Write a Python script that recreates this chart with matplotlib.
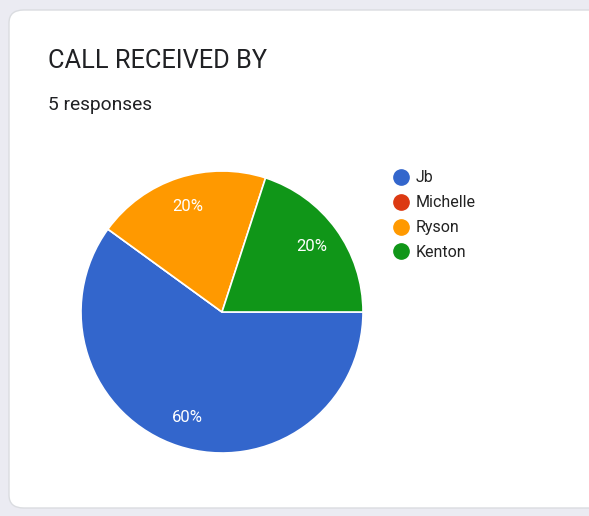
import matplotlib.pyplot as plt
from matplotlib.patches import FancyBboxPatch
from matplotlib.lines import Line2D

# -- Data -- #
names = ['Jb', 'Michelle', 'Ryson', 'Kenton']
counts = [3, 0, 1, 1]
colors = ['#3366cc', '#dc3912', '#ff9900', '#109618']
title = 'CALL RECEIVED BY'
subtitle = '5 responses'

W, H = 589, 516
plt.rcParams['font.family'] = ['Roboto', 'DejaVu Sans']

fig = plt.figure(figsize=(W / 100, H / 100), dpi=100)
fig.patch.set_facecolor('#ebebf2')

# card background
card = FancyBboxPatch((9 / W, 1 - 508 / H), 620 / W, 498 / H,
                      boxstyle='round,pad=0,rounding_size=0.025',
                      transform=fig.transFigure, facecolor='white',
                      edgecolor='#dadce0', linewidth=1, zorder=-5)
fig.patches.append(card)

fig.text(48 / W, 1 - 61 / H, title, fontsize=18.3, color='#202124',
         va='center', ha='left')
fig.text(48 / W, 1 - 105 / H, subtitle, fontsize=13.8, color='#202124',
         va='center', ha='left')

# -- Pie -- #
cx, cy, r = 222, 312, 141
ax = fig.add_axes([(cx - r) / W, 1 - (cy + r) / H, 2 * r / W, 2 * r / H])
ax.set_facecolor('none')
ax.set_zorder(2)

def fmt(p):
    return f'{p:.0f}%' if p > 0 else ''

wedges, _, autotexts = ax.pie(counts, colors=colors, startangle=0,
                              counterclock=False, autopct=fmt,
                              pctdistance=0.79, radius=1,
                              wedgeprops={'edgecolor': 'white', 'linewidth': 1.2},
                              textprops={'color': 'white', 'fontsize': 12})
ax.set_xlim(-1, 1)
ax.set_ylim(-1, 1)
ax.set_aspect('equal')

# -- Legend -- #
handles = [Line2D([], [], marker='o', linestyle='', markersize=11,
                  markerfacecolor=c, markeredgecolor=c) for c in colors]
fig.legend(handles, names, loc='upper left',
           bbox_to_anchor=(375 / W, 1 - 156 / H), frameon=False,
           fontsize=11.5, labelspacing=0.62, handletextpad=0.15,
           handlelength=1.5, labelcolor='#222222')

fig.savefig('out.png', dpi=100, facecolor=fig.get_facecolor())
